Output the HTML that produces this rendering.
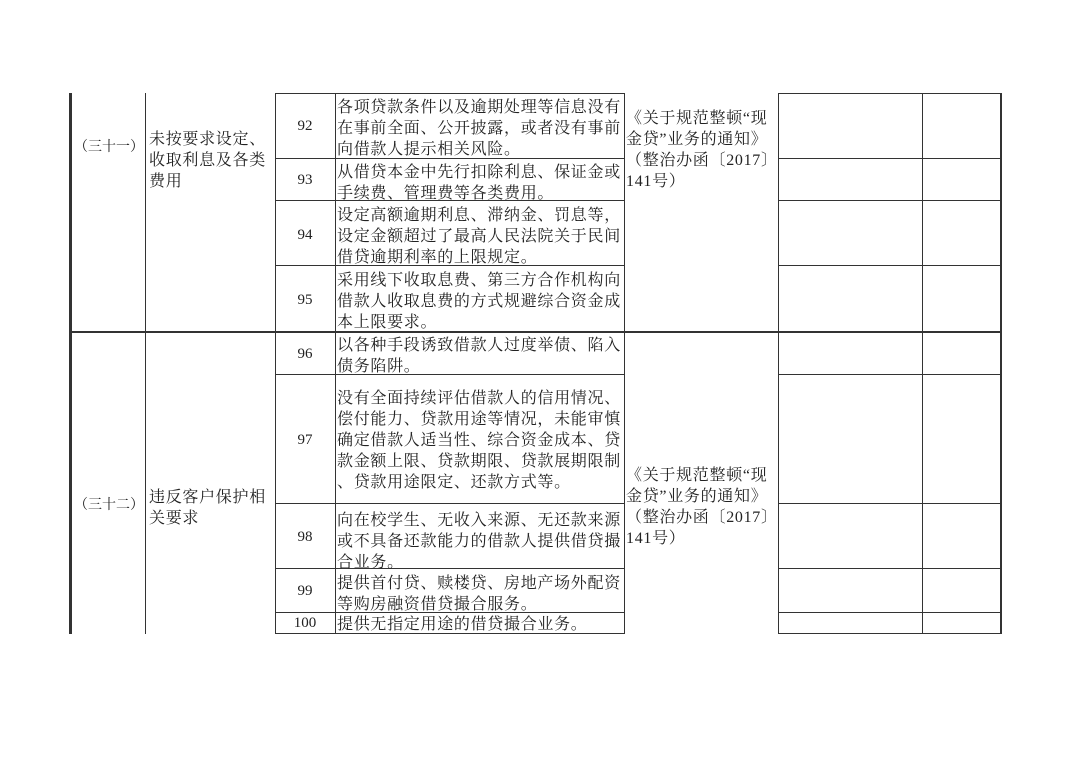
<!DOCTYPE html>
<html><head><meta charset="utf-8"><style>
body{margin:0;width:1080px;height:764px;background:#fff;position:relative;overflow:hidden;font-family:"Liberation Serif","Noto Serif CJK SC",serif;color:#222}
.l{position:absolute;background:#333}
.t{position:absolute;font-size:16px;line-height:21px;white-space:nowrap;letter-spacing:0.7px}
.n{position:absolute;font-size:15px;width:60px;text-align:center;left:275px}
</style></head><body>
<div class="l" style="left:69px;top:93px;width:3px;height:541px"></div>
<div class="l" style="left:145px;top:93px;width:1px;height:541px"></div>
<div class="l" style="left:275px;top:93px;width:1px;height:541px"></div>
<div class="l" style="left:335px;top:93px;width:1px;height:541px"></div>
<div class="l" style="left:624px;top:93px;width:1px;height:541px"></div>
<div class="l" style="left:778px;top:93px;width:1px;height:541px"></div>
<div class="l" style="left:922px;top:93px;width:1px;height:541px"></div>
<div class="l" style="left:1000px;top:93px;width:2px;height:541px"></div>
<div class="l" style="left:275px;top:93px;width:350px;height:1px"></div>
<div class="l" style="left:778px;top:93px;width:224px;height:1px"></div>
<div class="l" style="left:275px;top:158px;width:350px;height:1px"></div>
<div class="l" style="left:778px;top:158px;width:224px;height:1px"></div>
<div class="l" style="left:275px;top:200px;width:350px;height:1px"></div>
<div class="l" style="left:778px;top:200px;width:224px;height:1px"></div>
<div class="l" style="left:275px;top:265px;width:350px;height:1px"></div>
<div class="l" style="left:778px;top:265px;width:224px;height:1px"></div>
<div class="l" style="left:70px;top:331px;width:932px;height:2px"></div>
<div class="l" style="left:275px;top:374px;width:350px;height:1px"></div>
<div class="l" style="left:778px;top:374px;width:224px;height:1px"></div>
<div class="l" style="left:275px;top:503px;width:350px;height:1px"></div>
<div class="l" style="left:778px;top:503px;width:224px;height:1px"></div>
<div class="l" style="left:275px;top:568px;width:350px;height:1px"></div>
<div class="l" style="left:778px;top:568px;width:224px;height:1px"></div>
<div class="l" style="left:275px;top:612px;width:350px;height:1px"></div>
<div class="l" style="left:778px;top:612px;width:224px;height:1px"></div>
<div class="l" style="left:275px;top:633px;width:350px;height:1px"></div>
<div class="l" style="left:778px;top:633px;width:224px;height:1px"></div>

<div class="t" style="left:74px;top:137px;font-size:14px;letter-spacing:0">（三十一）</div>
<div class="t" style="left:149px;top:129px">未按要求设定、<br>收取利息及各类<br>费用</div>
<div class="t" style="left:74px;top:495px;font-size:14px;letter-spacing:0">（三十二）</div>
<div class="t" style="left:149px;top:487px">违反客户保护相<br>关要求</div>

<div class="n" style="top:118px">92</div>
<div class="n" style="top:172px">93</div>
<div class="n" style="top:227px">94</div>
<div class="n" style="top:292px">95</div>
<div class="n" style="top:346px">96</div>
<div class="n" style="top:432px">97</div>
<div class="n" style="top:529px">98</div>
<div class="n" style="top:583px">99</div>
<div class="n" style="top:615px">100</div>

<div class="t" style="left:337px;top:97px">各项贷款条件以及逾期处理等信息没有<br>在事前全面、公开披露，或者没有事前<br>向借款人提示相关风险。</div>
<div class="t" style="left:337px;top:162px">从借贷本金中先行扣除利息、保证金或<br>手续费、管理费等各类费用。</div>
<div class="t" style="left:337px;top:205px">设定高额逾期利息、滞纳金、罚息等，<br>设定金额超过了最高人民法院关于民间<br>借贷逾期利率的上限规定。</div>
<div class="t" style="left:337px;top:270px">采用线下收取息费、第三方合作机构向<br>借款人收取息费的方式规避综合资金成<br>本上限要求。</div>
<div class="t" style="left:337px;top:335px">以各种手段诱致借款人过度举债、陷入<br>债务陷阱。</div>
<div class="t" style="left:337px;top:388px">没有全面持续评估借款人的信用情况、<br>偿付能力、贷款用途等情况，未能审慎<br>确定借款人适当性、综合资金成本、贷<br>款金额上限、贷款期限、贷款展期限制<br>、贷款用途限定、还款方式等。</div>
<div class="t" style="left:337px;top:510px">向在校学生、无收入来源、无还款来源<br>或不具备还款能力的借款人提供借贷撮<br>合业务。</div>
<div class="t" style="left:337px;top:573px">提供首付贷、赎楼贷、房地产场外配资<br>等购房融资借贷撮合服务。</div>
<div class="t" style="left:337px;top:614px">提供无指定用途的借贷撮合业务。</div>

<div class="t" style="left:626px;top:108px">《关于规范整顿“现<br>金贷”业务的通知》<br>（整治办函〔2017〕<br>141号）</div>
<div class="t" style="left:626px;top:465px">《关于规范整顿“现<br>金贷”业务的通知》<br>（整治办函〔2017〕<br>141号）</div>
</body></html>
